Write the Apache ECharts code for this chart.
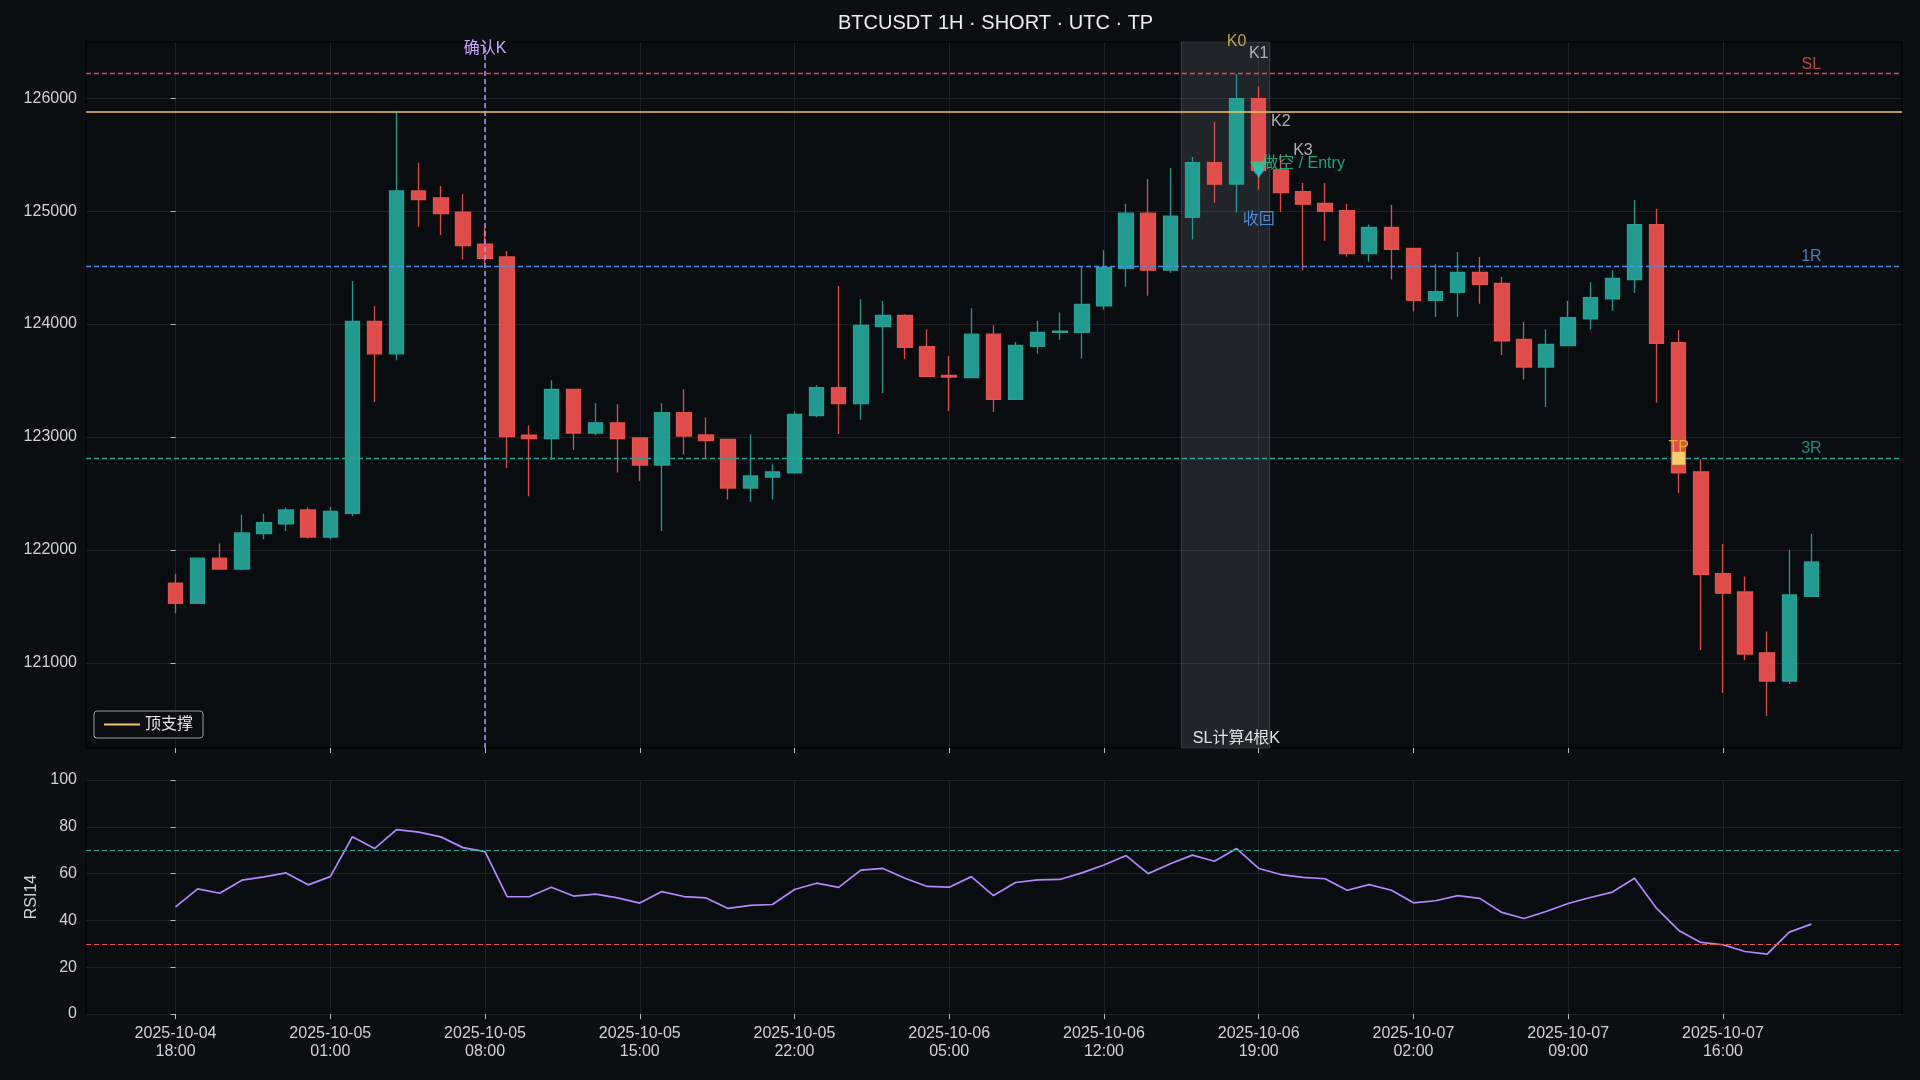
<!DOCTYPE html>
<html>
<head>
<meta charset="utf-8">
<title>BTCUSDT 1H · SHORT · UTC · TP</title>
<script src="https://cdn.jsdelivr.net/npm/echarts@6/dist/echarts.min.js"></script>
<style>
    html, body { margin: 0; padding: 0; background: #0c0f12; }
    #chart { width: 1920px; height: 1080px; }
</style>
</head>
<body>
<div id="chart"></div>
<script>
// 1H K线, 从 2025-10-04 18:00 (index 0) 开始
var tickIndex = [0, 7, 14, 21, 28, 35, 42, 49, 56, 63, 70];
var tickLabels = [
    '2025-10-04\n18:00', '2025-10-05\n01:00', '2025-10-05\n08:00', '2025-10-05\n15:00',
    '2025-10-05\n22:00', '2025-10-06\n05:00', '2025-10-06\n12:00', '2025-10-06\n19:00',
    '2025-10-07\n02:00', '2025-10-07\n09:00', '2025-10-07\n16:00'
];
var priceTicks = [121000, 122000, 123000, 124000, 125000, 126000];

var opens = [
    121706, 121526, 121926, 121830, 122144, 122230, 122354, 122113, 122324, 124023,
    123736, 125179, 125118, 124992, 124708, 124594, 123015, 122985, 123422, 123035,
    123125, 122992, 122751, 123215, 123018, 122978, 122547, 122644, 122681, 123189,
    123436, 123295, 123977, 124077, 123800, 123546, 123526, 123910, 123332, 123803,
    123927, 123927, 124160, 124494, 124982, 124477, 124945, 125429, 125239, 125997,
    125366, 125172, 125068, 125005, 124624, 124855, 124671, 124210, 124280, 124457,
    124361, 123863, 123619, 123810, 124047, 124224, 124394, 124881, 123836, 122691,
    121789, 121627, 121088, 120838, 121589
];
var closes = [
    121526, 121926, 121830, 122150, 122240, 122354, 122113, 122340, 124023, 123736,
    125179, 125102, 124978, 124694, 124581, 123002, 122985, 123422, 123035, 123125,
    122985, 122751, 123215, 123008, 122968, 122547, 122654, 122691, 123199, 123436,
    123295, 123987, 124077, 123793, 123536, 123530, 123910, 123332, 123810, 123927,
    123937, 124174, 124501, 124982, 124477, 124955, 125429, 125239, 125997, 125362,
    125165, 125062, 124998, 124624, 124855, 124661, 124210, 124287, 124457, 124351,
    123850, 123619, 123820, 124057, 124234, 124404, 124881, 123830, 122681, 121784,
    121616, 121077, 120838, 121601, 121893
];
var lows = [
    121439, 121520, 121830, 121820, 122093, 122167, 122100, 122093, 122297, 123309,
    123679, 124861, 124788, 124571, 124537, 122724, 122474, 122795, 122885, 123018,
    122684, 122608, 122167, 122845, 122815, 122447, 122427, 122447, 122681, 123175,
    123025, 123152, 123389, 123693, 123536, 123229, 123526, 123222, 123332, 123736,
    123860, 123693, 124127, 124330, 124250, 124454, 124748, 125075, 124988, 125192,
    124992, 124477, 124738, 124598, 124551, 124394, 124110, 124063, 124063, 124180,
    123726, 123509, 123265, 123810, 123953, 124117, 124274, 123305, 122504, 121112,
    120732, 121024, 120529, 120812, 121589
];
var highs = [
    121789, 121930, 122057, 122314, 122320, 122374, 122374, 122380, 124381, 124157,
    125880, 125429, 125222, 125152, 124848, 124648, 123102, 123502, 123422, 123299,
    123289, 122992, 123299, 123422, 123172, 122985, 123022, 122758, 123225, 123459,
    124337, 124220, 124204, 124087, 123953, 123716, 124140, 123990, 123840, 124027,
    124103, 124511, 124654, 125065, 125285, 125382, 125479, 125790, 126214, 126104,
    125506, 125249, 125249, 125065, 124881, 125055, 124671, 124531, 124638, 124594,
    124417, 124017, 123953, 124204, 124371, 124477, 125098, 125018, 123947, 122803,
    122052, 121763, 121277, 122001, 122143
];
var rsi = [
    45.8, 53.5, 51.6, 57.2, 58.6, 60.3, 55.2, 58.7, 75.7, 70.7,
    78.8, 77.7, 75.7, 71.1, 69.4, 50.2, 50.1, 54.2, 50.4, 51.2,
    49.6, 47.4, 52.3, 50.2, 49.6, 45.1, 46.4, 46.8, 53.2, 55.9,
    54.1, 61.5, 62.2, 58.0, 54.5, 54.2, 58.7, 50.6, 56.2, 57.3,
    57.5, 60.3, 63.7, 67.7, 60.0, 64.2, 67.9, 65.3, 70.7, 62.2,
    59.6, 58.4, 57.8, 52.9, 55.3, 52.9, 47.5, 48.4, 50.6, 49.4,
    43.4, 40.8, 43.8, 47.2, 49.8, 52.1, 58.0, 45.1, 35.7, 30.6,
    29.6, 26.7, 25.6, 35.0, 38.4
];

// 交易计划价位
var topSupport = 125880;
var slPrice = 126217;
var entryPrice = 125365;
var r1Price = 124513;
var r3Price = 122811;
var confirmIndex = 14;
var entryIndex = 49;
var tpIndex = 68;
var slWindow = [45.5, 49.5];
var kNames = ['K0', 'K1', 'K2', 'K3'];
var kIndex = [48, 49, 50, 51];

var UP = '#26a69a', DOWN = '#ef5350';
var FONT = "'Liberation Sans', 'Noto Sans CJK SC', sans-serif";
var TEXT = '#cfd2d6';
var GRID_LINE = '#1d2126';
var FS = 16;

var chart = echarts.init(document.getElementById('chart'));

var candles = opens.map(function (o, i) {
    return [i, o, closes[i], lows[i], highs[i]];
});
var rsiData = rsi.map(function (v, i) {
    return [i, v];
});
var lastIndex = opens.length - 1;

function xAxisBase(gridIndex, showLabel) {
    return {
        type: 'value',
        gridIndex: gridIndex,
        min: -4.05,
        max: 78.1,
        axisLine: {show: false},
        axisTick: {show: true, customValues: tickIndex, length: 5, lineStyle: {color: '#b9bcc0'}},
        axisLabel: {
            show: showLabel,
            customValues: tickIndex,
            margin: 11,
            color: TEXT,
            fontFamily: FONT,
            fontSize: FS,
            lineHeight: 18,
            formatter: function (v) {
                var k = tickIndex.indexOf(Math.round(v));
                return k >= 0 ? tickLabels[k] : '';
            }
        },
        splitLine: {show: true, lineStyle: {color: GRID_LINE, width: 1}}
    };
}

var option = {
    backgroundColor: '#0c0f12',
    animation: false,
    textStyle: {fontFamily: FONT},
    title: {
        text: 'BTCUSDT 1H · SHORT · UTC · TP',
        left: 838,
        top: 13,
        padding: 0,
        textStyle: {color: '#eeeeee', fontSize: 20, fontWeight: 'normal', fontFamily: FONT}
    },
    legend: {
        data: [{name: '顶支撑', icon: 'rect'}],
        left: 94,
        top: 711,
        orient: 'vertical',
        padding: [5, 10],
        itemWidth: 36,
        itemHeight: 2,
        backgroundColor: 'rgba(12,15,18,0.85)',
        borderColor: '#9a9da1',
        borderWidth: 1,
        borderRadius: 3,
        textStyle: {color: '#e6e6e6', fontSize: FS, fontFamily: FONT, lineHeight: 17}
    },
    grid: [
        {left: 86, right: 18, top: 42, height: 706, show: true, backgroundColor: '#0a0d10', borderColor: '#000000', borderWidth: 1},
        {left: 86, right: 18, top: 780, height: 234, show: true, backgroundColor: '#0a0d10', borderColor: '#000000', borderWidth: 1}
    ],
    xAxis: [xAxisBase(0, false), xAxisBase(1, true)],
    yAxis: [
        {
            type: 'value',
            gridIndex: 0,
            min: 120245,
            max: 126498,
            axisLine: {show: false},
            axisTick: {show: true, customValues: priceTicks, length: 5, lineStyle: {color: '#b9bcc0'}},
            axisLabel: {
                customValues: priceTicks,
                color: TEXT,
                fontSize: FS,
                fontFamily: FONT,
                margin: 9,
                formatter: function (v) {
                    return String(v);
                }
            },
            splitLine: {show: true, lineStyle: {color: GRID_LINE}}
        },
        {
            type: 'value',
            gridIndex: 1,
            min: 0,
            max: 100,
            interval: 20,
            name: 'RSI14',
            nameLocation: 'middle',
            nameGap: 45,
            nameTextStyle: {color: TEXT, fontSize: FS, fontFamily: FONT},
            axisLine: {show: false},
            axisTick: {show: true, length: 5, lineStyle: {color: '#b9bcc0'}},
            axisLabel: {color: TEXT, fontSize: FS, fontFamily: FONT, margin: 9},
            splitLine: {show: true, lineStyle: {color: GRID_LINE}}
        }
    ],
    series: [
        {
            name: 'BTCUSDT',
            type: 'candlestick',
            xAxisIndex: 0,
            yAxisIndex: 0,
            barWidth: 15,
            data: candles,
            itemStyle: {
                color: UP,
                color0: DOWN,
                borderColor: UP,
                borderColor0: DOWN,
                borderWidth: 1.3,
                opacity: 0.93
            },
            markLine: {
                silent: true,
                symbol: 'none',
                label: {show: false},
                data: [
                    {yAxis: slPrice, lineStyle: {color: '#e5484d', type: [5, 3], width: 1.3}},
                    {yAxis: r1Price, lineStyle: {color: '#4a90e2', type: [5, 3], width: 1.3}},
                    {yAxis: r3Price, lineStyle: {color: UP, type: [5, 3], width: 1.3}},
                    {
                        xAxis: confirmIndex,
                        lineStyle: {color: '#b794f6', type: [5, 3], width: 1.5},
                        label: {
                            show: true,
                            formatter: '确认K',
                            position: 'end',
                            distance: -15,
                            color: '#c9a7ff',
                            fontSize: FS,
                            fontFamily: FONT
                        }
                    }
                ]
            },
            markArea: {
                silent: true,
                itemStyle: {color: 'rgba(190,195,205,0.13)', borderColor: 'rgba(190,195,205,0.22)', borderWidth: 1},
                label: {
                    show: true,
                    position: 'insideBottomLeft',
                    distance: 2,
                    offset: [10, 0],
                    color: '#e2e2e2',
                    fontSize: FS,
                    fontFamily: FONT
                },
                data: [[{name: 'SL计算4根K', xAxis: slWindow[0]}, {xAxis: slWindow[1]}]]
            }
        },
        {
            name: '顶支撑',
            type: 'line',
            xAxisIndex: 0,
            yAxisIndex: 0,
            data: [],
            symbol: 'none',
            lineStyle: {color: '#f5c46b', width: 2},
            itemStyle: {color: '#f5c46b'},
            markLine: {
                silent: true,
                symbol: 'none',
                label: {show: false},
                lineStyle: {color: '#f5c46b', type: 'solid', width: 1.6},
                data: [{yAxis: topSupport}]
            }
        },
        {
            name: 'K标记',
            type: 'scatter',
            xAxisIndex: 0,
            yAxisIndex: 0,
            symbolSize: 1,
            itemStyle: {color: 'rgba(0,0,0,0)'},
            z: 5,
            label: {
                show: true,
                position: 'top',
                distance: 24,
                formatter: '{b}',
                fontSize: FS,
                fontFamily: FONT
            },
            data: kNames.map(function (n, k) {
                return {
                    name: n,
                    value: [kIndex[k], highs[kIndex[k]]],
                    label: {color: k === 0 ? '#e8c25e' : '#d4d6d9'}
                };
            })
        },
        {
            name: '收回',
            type: 'scatter',
            xAxisIndex: 0,
            yAxisIndex: 0,
            symbol: 'circle',
            symbolSize: 10,
            z: 6,
            itemStyle: {color: '#4a9eff'},
            label: {
                show: true,
                position: 'bottom',
                distance: 37,
                formatter: '收回',
                color: '#58a6ff',
                fontSize: FS,
                fontFamily: FONT
            },
            data: [[entryIndex, entryPrice]]
        },
        {
            name: '做空',
            type: 'scatter',
            xAxisIndex: 0,
            yAxisIndex: 0,
            symbol: 'triangle',
            symbolRotate: 180,
            symbolSize: 17,
            z: 7,
            itemStyle: {color: '#1fd1a1'},
            label: {
                show: true,
                position: 'right',
                distance: -5,
                offset: [0, -6],
                formatter: '做空 / Entry',
                color: '#22cc9e',
                fontSize: FS,
                fontFamily: FONT
            },
            data: [[entryIndex, entryPrice]]
        },
        {
            name: 'TP',
            type: 'scatter',
            xAxisIndex: 0,
            yAxisIndex: 0,
            symbol: 'rect',
            symbolSize: 13,
            z: 7,
            itemStyle: {color: '#ffd36b', opacity: 0.95},
            label: {
                show: true,
                position: 'top',
                distance: -4,
                formatter: 'TP',
                color: '#f2b234',
                fontSize: FS,
                fontFamily: FONT
            },
            data: [[tpIndex, r3Price]]
        },
        {
            name: '价位标签',
            type: 'scatter',
            xAxisIndex: 0,
            yAxisIndex: 0,
            symbolSize: 1,
            itemStyle: {color: 'rgba(0,0,0,0)'},
            z: 5,
            label: {show: true, position: 'top', distance: 1, formatter: '{b}', fontSize: FS, fontFamily: FONT},
            data: [
                {name: 'SL', value: [lastIndex, slPrice], label: {color: '#ef5350'}},
                {name: '1R', value: [lastIndex, r1Price], label: {color: '#4f9cf0'}},
                {name: '3R', value: [lastIndex, r3Price], label: {color: UP}}
            ]
        },
        {
            name: 'RSI14',
            type: 'line',
            xAxisIndex: 1,
            yAxisIndex: 1,
            data: rsiData,
            symbol: 'none',
            lineStyle: {color: '#b388ff', width: 1.7},
            markLine: {
                silent: true,
                symbol: 'none',
                label: {show: false},
                data: [
                    {yAxis: 70, lineStyle: {color: UP, type: [5, 3], width: 1.2}},
                    {yAxis: 30, lineStyle: {color: '#ef5350', type: [5, 3], width: 1.2}}
                ]
            }
        }
    ]
};

chart.setOption(option);
</script>
</body>
</html>
